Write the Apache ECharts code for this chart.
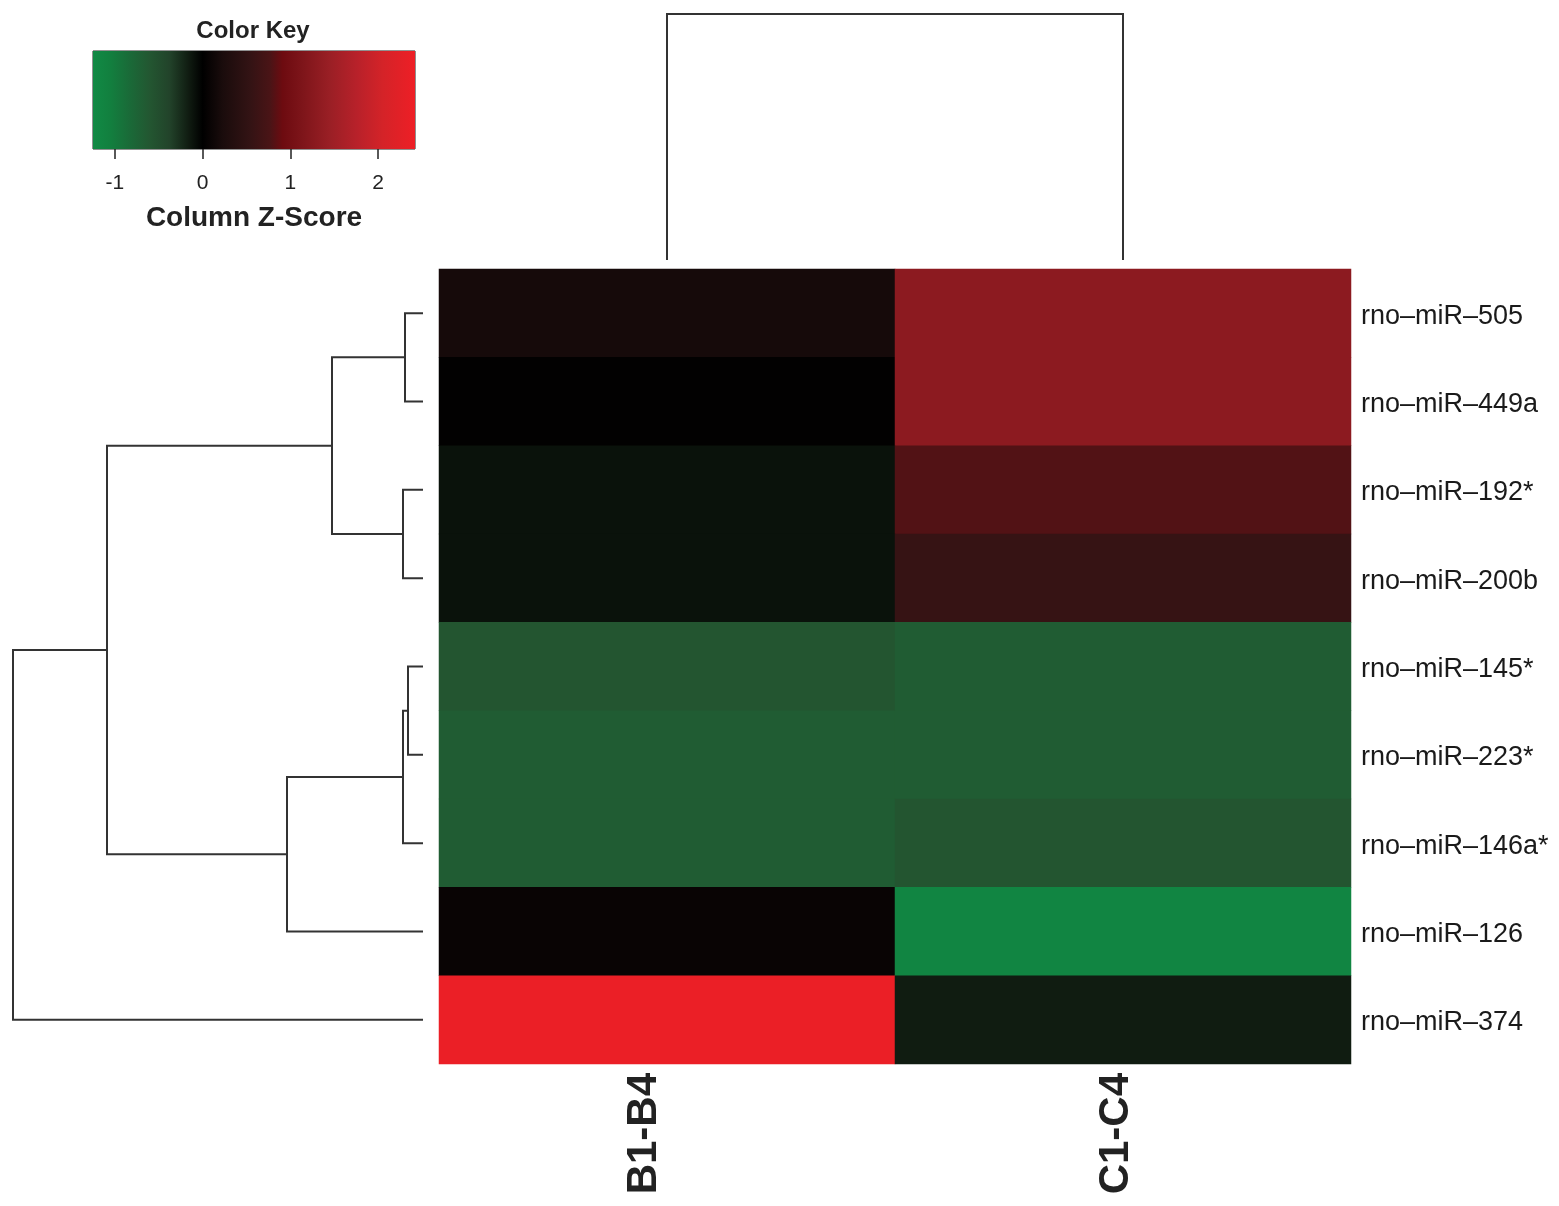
<!DOCTYPE html>
<html>
<head>
<meta charset="utf-8">
<script src="https://cdn.jsdelivr.net/npm/echarts@6/dist/echarts.min.js"></script>
<style>
html,body{margin:0;padding:0;background:#fff;}
#chart{width:1559px;height:1206px;}
</style>
</head>
<body>
<div id="chart"></div>
<script>
// ---- data ----
const rowNames = ['rno\u2013miR\u2013505','rno\u2013miR\u2013449a','rno\u2013miR\u2013192*','rno\u2013miR\u2013200b',
  'rno\u2013miR\u2013145*','rno\u2013miR\u2013223*','rno\u2013miR\u2013146a*','rno\u2013miR\u2013126','rno\u2013miR\u2013374'];
const colNames = ['B1-B4','C1-C4'];
const zB = [0.19, 0.01, -0.10, -0.10, -0.58, -0.67, -0.67, 0.08, 2.38];
const zC = [1.30, 1.30, 0.80, 0.57, -0.67, -0.67, -0.58, -1.15, -0.16];
// row dendrogram (hclust-style merge; negative = leaf in display order, positive = earlier merge)
const rowMerge = [[-1,-2],[-3,-4],[1,2],[-5,-6],[4,-7],[5,-8],[3,6],[7,-9]];
const rowHeights = [0.18, 0.20, 0.91, 0.15, 0.20, 1.36, 3.16, 4.10];
// column dendrogram
const colMerge = [[-1,-2]];
const colHeights = [2.46];
// colour key
const keyMin = -1.25, keyMax = 2.42;
const keyTicks = [-1, 0, 1, 2];
const keyStops = [[-1.25,'#118a45'],[-1.06,'#12803f'],[-0.83,'#1a6a38'],[-0.6,'#235631'],[-0.38,'#22432a'],
  [-0.15,'#0f1a10'],[0,'#000000'],[0.23,'#1a0c0c'],[0.54,'#331314'],[0.77,'#4a1416'],[0.91,'#6d0b10'],
  [1.14,'#7e151a'],[1.45,'#9a1f25'],[1.76,'#b8212a'],[2.05,'#d42328'],[2.42,'#ee1f26']];

// ---- helpers ----
function hex2rgb(h){return [parseInt(h.slice(1,3),16),parseInt(h.slice(3,5),16),parseInt(h.slice(5,7),16)];}
function rgb2hex(c){return '#'+c.map(v=>Math.round(v).toString(16).padStart(2,'0')).join('');}
function ramp(v){
  if(v<=keyStops[0][0]) return keyStops[0][1];
  for(let i=1;i<keyStops.length;i++){
    if(v<=keyStops[i][0]){
      const [v0,c0]=keyStops[i-1],[v1,c1]=keyStops[i];
      const t=(v-v0)/(v1-v0), a=hex2rgb(c0), b=hex2rgb(c1);
      return rgb2hex(a.map((x,k)=>x+(b[k]-x)*t));
    }
  }
  return keyStops[keyStops.length-1][1];
}
const palette = Array.from({length:120},(_,i)=>ramp(keyMin+(keyMax-keyMin)*i/119));

function dendro(merge, heights, horizontal){
  const pos=[], out=[];
  merge.forEach((m,k)=>{
    const [a,b]=m;
    const pa = a<0 ? -a-1 : pos[a-1], ha = a<0 ? 0 : heights[a-1];
    const pb = b<0 ? -b-1 : pos[b-1], hb = b<0 ? 0 : heights[b-1];
    const h = heights[k];
    pos[k]=(pa+pb)/2;
    const pts = [[ha,pa],[h,pa],[h,pb],[hb,pb]];
    out.push({coords: horizontal ? pts : pts.map(p=>[p[1],p[0]])});
  });
  return out;
}

const heatData = [];
rowNames.forEach((r,i)=>{ heatData.push([0,i,zB[i]]); heatData.push([1,i,zC[i]]); });

const FONT = 'Liberation Sans, Arial, Helvetica, sans-serif';
const chart = echarts.init(document.getElementById('chart'));
chart.setOption({
  animation:false,
  backgroundColor:'#ffffff',
  title:{text:'Color Key',left:248,top:14,textAlign:'center',
    textStyle:{fontFamily:FONT,fontSize:24,fontWeight:'bold',color:'#222'}},
  grid:[
    {left:439, top:269, width:912, height:795},          // heatmap
    {left:13, top:269, width:410, height:795},           // row dendrogram
    {left:439, top:14, width:912, height:246},           // column dendrogram
    {left:93, top:51, width:322, height:98, show:true, borderColor:'#222', borderWidth:1, backgroundColor:'transparent'} // key
  ],
  xAxis:[
    {gridIndex:0, type:'category', data:colNames, axisLine:{show:false}, axisTick:{show:false},
      axisLabel:{rotate:90, margin:9, fontFamily:FONT, fontSize:42, fontWeight:'bold', color:'#222',
        formatter:(v,i)=> i===0 ? '{b|'+v+'}' : '{c|'+v+'}',
        rich:{b:{fontFamily:FONT,fontSize:42,fontWeight:'bold',color:'#222',padding:[0,0,46,0]},
              c:{fontFamily:FONT,fontSize:42,fontWeight:'bold',color:'#222',padding:[0,0,14,0]}}}},
    {gridIndex:1, type:'value', min:0, max:rowHeights[rowHeights.length-1], inverse:true, show:false},
    {gridIndex:2, type:'value', min:-0.5, max:colNames.length-0.5, show:false},
    {gridIndex:3, type:'value', min:keyMin, max:keyMax, position:'bottom',
      axisLine:{show:false}, splitLine:{show:false},
      axisTick:{show:true, customValues:keyTicks, length:10, lineStyle:{color:'#222',width:1.5}},
      axisLabel:{show:true, customValues:keyTicks, margin:24, fontFamily:FONT, fontSize:21, color:'#222'},
      name:'Column Z-Score', nameLocation:'middle', nameGap:55,
      nameTextStyle:{fontFamily:FONT,fontSize:28,fontWeight:'bold',color:'#222'}}
  ],
  yAxis:[
    {gridIndex:0, type:'category', data:rowNames, inverse:true, position:'right',
      axisLine:{show:false}, axisTick:{show:false},
      axisLabel:{margin:10, fontFamily:FONT, fontSize:27, color:'#1a1a1a',
        formatter:v=>'{r|'+v+'}',
        rich:{r:{fontFamily:FONT,fontSize:27,color:'#1a1a1a',padding:[6,0,0,0]}}}},
    {gridIndex:1, type:'value', min:-0.5, max:rowNames.length-0.5, inverse:true, show:false},
    {gridIndex:2, type:'value', min:0, max:colHeights[colHeights.length-1], show:false},
    {gridIndex:3, type:'value', min:0, max:1, show:false}
  ],
  visualMap:{type:'continuous', show:false, min:keyMin, max:keyMax, seriesIndex:0, inRange:{color:palette}},
  series:[
    {type:'heatmap', xAxisIndex:0, yAxisIndex:0, data:heatData, itemStyle:{borderWidth:0}, emphasis:{disabled:true}},
    {type:'lines', coordinateSystem:'cartesian2d', xAxisIndex:1, yAxisIndex:1, polyline:true,
      data:dendro(rowMerge,rowHeights,true), lineStyle:{color:'#333',width:2,opacity:1}, silent:true},
    {type:'lines', coordinateSystem:'cartesian2d', xAxisIndex:2, yAxisIndex:2, polyline:true,
      data:dendro(colMerge,colHeights,false), lineStyle:{color:'#333',width:2,opacity:1}, silent:true},
    {type:'custom', xAxisIndex:3, yAxisIndex:3, data:[[keyMin,keyMax]], silent:true,
      renderItem:(params,api)=>{
        const p0=api.coord([api.value(0),1]), p1=api.coord([api.value(1),0]);
        const stops=keyStops.map(s=>({offset:(s[0]-keyMin)/(keyMax-keyMin), color:s[1]}));
        return {type:'rect', shape:{x:p0[0],y:p0[1],width:p1[0]-p0[0],height:p1[1]-p0[1]},
          style:{fill:new echarts.graphic.LinearGradient(0,0,1,0,stops)}};
      }}
  ]
});
</script>
</body>
</html>
